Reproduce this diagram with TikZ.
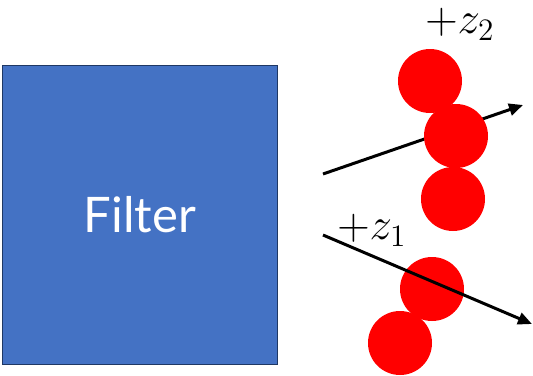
\documentclass[tikz,border=0pt]{standalone}
\usepackage{fontspec}
\newfontfamily\labelfont{Lato}
\usetikzlibrary{arrows.meta}
\definecolor{filterblue}{HTML}{4472C4}
\definecolor{filteredge}{HTML}{1F3864}
\tikzset{
  filterbox/.style={draw=filteredge, line width=1.5pt, fill=filterblue, minimum width=275pt, minimum height=299pt, inner sep=0pt, text=white, font=\labelfont\fontsize{49}{49}\selectfont},
  ball/.style={circle, fill=red, minimum size=64pt, inner sep=0pt},
  ray/.style={line width=3pt, -{Triangle[length=14pt,width=12pt]}},
  zlabel/.style={font=\fontsize{17}{17}\selectfont, inner sep=0pt, scale=2.6}
}
\begin{document}
\begin{tikzpicture}[x=1pt,y=-1pt]
\useasboundingbox (0,0) rectangle (533,375);
\node[filterbox] (filter) at (140,215) {Filter};
% upper ray (behind the balls)
\coordinate (u0) at (323,174);
\coordinate (u1) at (523,105);
\draw[ray] (u0) -- (u1);
\node[ball] (b1) at (430,81) {};
\node[ball] (b2) at (456,136) {};
\node[ball] (b3) at (453,199) {};
\node[ball] (b4) at (432,289) {};
\node[ball] (b5) at (400,343) {};
% lower ray (in front)
\coordinate (l0) at (323,235);
\coordinate (l1) at (532,324);
\draw[ray] (l0) -- (l1);
\node[zlabel] (z2) at (460,24) {$+z_2$};
\node[zlabel] (z1) at (372,230) {$+z_1$};
\end{tikzpicture}
\end{document}
